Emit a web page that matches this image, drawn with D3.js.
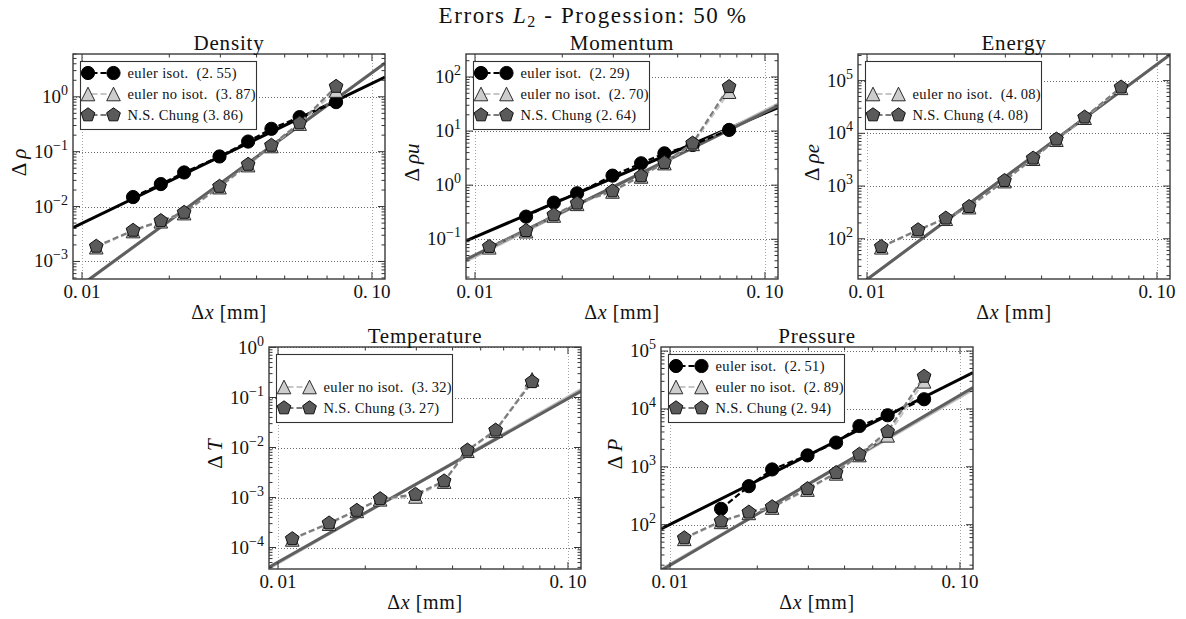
<!DOCTYPE html>
<html>
<head>
<meta charset="utf-8">
<script src="https://cdn.jsdelivr.net/npm/d3@7"></script>
<style>
  body { margin: 0; background: #fff; }
  svg { display: block; }
</style>
</head>
<body>
<svg id="fig" width="1186" height="619" font-family="Liberation Serif" fill="#111"></svg>
<script>
// Grid spacing Δx [mm] of the successive meshes
const dx = [0.0112, 0.0150, 0.0187, 0.0225, 0.0298, 0.0374, 0.0450, 0.0563, 0.0752];

// Density errors
const densityIsot   = [null, 0.0149, 0.0257, 0.0418, 0.0818, 0.153, 0.261, 0.427, 0.80];
const densityNoIsot = [0.00182, 0.00358, 0.0054, 0.0076, 0.0226, 0.057, 0.127, 0.325, 1.30];
const densityChung  = [0.00188, 0.00367, 0.0055, 0.0078, 0.0232, 0.0585, 0.130, 0.332, 1.54];
const densityOrders = [2.55, 3.87, 3.86];
const densityFitAt003 = [0.0817, 0.0262, 0.0264];

// Momentum errors
const momentumIsot   = [null, 0.262, 0.475, 0.708, 1.50, 2.54, 3.88, 5.53, 10.5];
const momentumNoIsot = [0.071, 0.141, 0.275, 0.452, 0.765, 1.45, 2.56, 5.80, 53.5];
const momentumChung  = [0.073, 0.144, 0.281, 0.462, 0.78, 1.48, 2.61, 5.94, 66];
const momentumOrders = [2.29, 2.70, 2.64];
const momentumFitAt003 = [1.365, 0.927, 0.929];

// Energy errors (no isothermal run)
const energyIsot   = [null, null, null, null, null, null, null, null, null];
const energyNoIsot = [69, 144, 240, 398, 1240, 3300, 7580, 19800, 73000];
const energyChung  = [70.8, 147, 245, 406, 1265, 3366, 7725, 20200, 75000];
const energyOrders = [null, 4.08, 4.08];
const energyFitAt003 = [null, 1496, 1496];

// Temperature errors (no isothermal run)
const temperatureIsot   = [null, null, null, null, null, null, null, null, null];
const temperatureNoIsot = [1.45e-4, 3.0e-4, 5.4e-4, 9.2e-4, 1.05e-3, 2.08e-3, 8.6e-3, 0.0216, 0.23];
const temperatureChung  = [1.49e-4, 3.07e-4, 5.5e-4, 9.4e-4, 1.15e-3, 2.13e-3, 8.8e-3, 0.0221, 0.206];
const temperatureOrders = [null, 3.32, 3.27];
const temperatureFitAt003 = [null, 1.87e-3, 1.86e-3];

// Pressure errors
const pressureIsot   = [null, 188, 463, 901, 1577, 2620, 5070, 7780, 14700];
const pressureNoIsot = [57, 112, 160, 198, 405, 770, 1600, 3500, 30000];
const pressureChung  = [59, 115, 164, 203, 417, 790, 1640, 4060, 36500];
const pressureOrders = [2.51, 2.89, 2.94];
const pressureFitAt003 = [1592, 495, 503];

// Tick labels of the Δx axis
const xTickValues = [0.01, 0.1];
const xTickLabels = ["0.\u200901", "0.\u200910"];

const seriesNames = ["euler isot.", "euler no isot.", "N.S. Chung"];

// ---------------------------------------------------------------------------
const FONT = "Liberation Serif";
const seriesStyles = [
  { shape: "circle",   fill: "#000000", stroke: "#000000", line: "#000000", fit: "#000000", sep: "  " },
  { shape: "triangle", fill: "#cdcdcd", stroke: "#2a2a2a", line: "#c6c6c6", fit: "#bdbdbd", sep: "  " },
  { shape: "pentagon", fill: "#5a5a5a", stroke: "#111111", line: "#7c7c7c", fit: "#5f5f5f", sep: " " }
];

const PW = 312;
const xDomain = [0.00931, 0.1109];
const FIT_REF = 0.03;

const panels = [
  { title: "Density", ylab: [["Δ ", false], ["ρ", true]], x: 73, y: 54, h: 225, ylim: [-3.32, 0.78],
    data: [densityIsot, densityNoIsot, densityChung], orders: densityOrders, fitAt: densityFitAt003 },
  { title: "Momentum", ylab: [["Δ ", false], ["ρu", true]], x: 466, y: 54, h: 225, ylim: [-1.735, 2.425],
    data: [momentumIsot, momentumNoIsot, momentumChung], orders: momentumOrders, fitAt: momentumFitAt003 },
  { title: "Energy", ylab: [["Δ ", false], ["ρe", true]], x: 858, y: 54, h: 225, ylim: [1.237, 5.505],
    data: [energyIsot, energyNoIsot, energyChung], orders: energyOrders, fitAt: energyFitAt003 },
  { title: "Temperature", ylab: [["Δ ", false], ["T", true]], x: 269, y: 347, h: 222, ylim: [-4.43, 0.01],
    data: [temperatureIsot, temperatureNoIsot, temperatureChung], orders: temperatureOrders, fitAt: temperatureFitAt003 },
  { title: "Pressure", ylab: [["Δ ", false], ["P", true]], x: 661, y: 347, h: 222, ylim: [1.235, 5.07],
    data: [pressureIsot, pressureNoIsot, pressureChung], orders: pressureOrders, fitAt: pressureFitAt003 }
];

const svg = d3.select("#fig");
const fmtOrder = o => o.toFixed(2).replace(".", ".\u2009");

function txt(sel, size) {
  return sel.append("text").attr("font-family", FONT).attr("font-size", size).attr("fill", "#111");
}

// Figure title
const ft = txt(svg, 23).attr("x", 593).attr("y", 23).attr("text-anchor", "middle")
  .attr("letter-spacing", 1.6);
ft.append("tspan").text("Errors ");
ft.append("tspan").attr("font-style", "italic").text("L");
ft.append("tspan").attr("dy", 4).attr("font-size", 16).text("2");
ft.append("tspan").attr("dy", -4).text(" - Progession: 50 %");

function marker(sel, shape, cx, cy, st) {
  const s = 6.8;
  if (shape === "circle") {
    sel.append("circle").attr("cx", cx).attr("cy", cy).attr("r", 6.6)
      .attr("fill", st.fill).attr("stroke", st.stroke).attr("stroke-width", 1);
  } else if (shape === "triangle") {
    sel.append("path")
      .attr("d", `M${cx},${cy - s}L${cx - s},${cy + s}L${cx + s},${cy + s}Z`)
      .attr("fill", st.fill).attr("stroke", st.stroke).attr("stroke-width", 1);
  } else {
    const r = 7.2;
    const pts = d3.range(5).map(k => {
      const a = -Math.PI / 2 + k * 2 * Math.PI / 5;
      return [cx + r * Math.cos(a), cy + r * Math.sin(a)];
    });
    sel.append("path").attr("d", "M" + pts.join("L") + "Z")
      .attr("fill", st.fill).attr("stroke", st.stroke).attr("stroke-width", 1);
  }
}

panels.forEach((p, pi) => {
  const g = svg.append("g").attr("transform", `translate(${p.x},${p.y})`);
  const h = p.h;
  const x = d3.scaleLog().domain(xDomain).range([0, PW]);
  const y = d3.scaleLog().domain([10 ** p.ylim[0], 10 ** p.ylim[1]]).range([h, 0]);

  const clipId = "clip" + pi;
  g.append("clipPath").attr("id", clipId).append("rect").attr("width", PW).attr("height", h);

  // decade values along y
  const yMajor = d3.range(Math.ceil(p.ylim[0] - 1e-9), Math.floor(p.ylim[1] + 1e-9) + 1);
  const yMinor = [];
  for (let k = Math.floor(p.ylim[0]); k <= Math.ceil(p.ylim[1]); k++)
    for (let m = 2; m <= 9; m++) {
      const v = m * 10 ** k;
      if (v > 10 ** p.ylim[0] && v < 10 ** p.ylim[1]) yMinor.push(v);
    }
  const xMinor = d3.range(2, 10).map(m => m / 100);

  // grid
  const grid = g.append("g").attr("stroke", "#5a5a5a").attr("stroke-width", 0.9).attr("stroke-dasharray", "1,2");
  yMajor.forEach(k => {
    const yy = Math.round(y(10 ** k)) + 0.5;
    grid.append("line").attr("x1", 0).attr("x2", PW).attr("y1", yy).attr("y2", yy);
  });
  xTickValues.forEach(v => {
    const xx = Math.round(x(v)) + 0.5;
    grid.append("line").attr("x1", xx).attr("x2", xx).attr("y1", 0).attr("y2", h).attr("stroke", "#999");
  });

  // fitted convergence lines
  const plot = g.append("g").attr("clip-path", `url(#${clipId})`);
  const fitLine = d3.line().x(d => x(d[0])).y(d => y(d[1]));
  p.orders.forEach((o, si) => {
    if (o == null) return;
    const f = v => p.fitAt[si] * Math.pow(v / FIT_REF, o);
    plot.append("path").datum(xDomain.map(v => [v, f(v)]))
      .attr("d", fitLine).attr("fill", "none")
      .attr("stroke", seriesStyles[si].fit).attr("stroke-width", 3);
  });

  // measured errors: dashed lines then markers
  p.data.forEach((vals, si) => {
    const st = seriesStyles[si];
    const pts = vals.map((v, i) => ({ dx: dx[i], v })).filter(d => d.v != null);
    if (!pts.length) return;
    const ln = d3.line().x(d => x(d.dx)).y(d => y(d.v));
    plot.append("path").datum(pts).attr("d", ln).attr("fill", "none")
      .attr("stroke", st.line).attr("stroke-width", 2.2).attr("stroke-dasharray", "6,3");
    const mg = plot.append("g");
    pts.forEach(d => marker(mg, st.shape, x(d.dx), y(d.v), st));
  });

  // ticks on all four sides, pointing inwards
  const tk = g.append("g").attr("stroke", "#333").attr("stroke-width", 1);
  const tick = (x1, y1, x2, y2) => tk.append("line").attr("x1", x1).attr("y1", y1).attr("x2", x2).attr("y2", y2);
  xTickValues.forEach(v => { const xx = x(v); tick(xx, h, xx, h - 7); tick(xx, 0, xx, 7); });
  xMinor.forEach(v => { const xx = x(v); tick(xx, h, xx, h - 3.5); tick(xx, 0, xx, 3.5); });
  yMajor.forEach(k => { const yy = y(10 ** k); tick(0, yy, 7, yy); tick(PW, yy, PW - 7, yy); });
  yMinor.forEach(v => { const yy = y(v); tick(0, yy, 3.5, yy); tick(PW, yy, PW - 3.5, yy); });

  // frame
  g.append("rect").attr("x", 0).attr("y", 0).attr("width", PW).attr("height", h)
    .attr("fill", "none").attr("stroke", "#3a3a3a").attr("stroke-width", 1.4);

  // x tick labels
  xTickValues.forEach((v, i) => {
    txt(g, 19).attr("x", x(v)).attr("y", h + 19).attr("text-anchor", "middle")
      .style("white-space", "pre").text(xTickLabels[i]);
  });

  // y tick labels
  const yt = g.append("g");
  yMajor.forEach(k => {
    const t = txt(yt, 19).attr("x", -5).attr("y", y(10 ** k) + 6).attr("text-anchor", "end");
    t.append("tspan").text("10");
    t.append("tspan").attr("dy", -8).attr("font-size", 14)
      .text(k < 0 ? "\u2212" + (-k) : String(k));
  });

  // axis labels
  const xl = txt(g, 20).attr("x", PW / 2).attr("y", h + 40).attr("text-anchor", "middle")
    .attr("letter-spacing", 0.6);
  xl.append("tspan").text("Δ");
  xl.append("tspan").attr("font-style", "italic").text("x");
  xl.append("tspan").text(" [mm]");

  const bb = yt.node().getBBox();
  const yl = txt(g, 21)
    .attr("transform", `translate(${bb.x - 8},${h / 2 - 4}) rotate(-90)`)
    .attr("text-anchor", "middle").style("white-space", "pre");
  p.ylab.forEach(([s, it]) => yl.append("tspan").attr("font-style", it ? "italic" : "normal").text(s));

  // panel title
  txt(g, 21).attr("x", PW / 2).attr("y", -4).attr("text-anchor", "middle")
    .attr("letter-spacing", 0.8).text(p.title);

  // legend
  const lg = g.append("g").attr("transform", "translate(7.5,7.5)");
  lg.append("rect").attr("width", 176).attr("height", 68).attr("fill", "#fff")
    .attr("stroke", "#333").attr("stroke-width", 1.1);
  const rowY = [11.5, 32.5, 53.5];
  p.orders.forEach((o, si) => {
    if (o == null) return;
    const st = seriesStyles[si];
    const ry = rowY[si];
    lg.append("line").attr("x1", 7).attr("x2", 33).attr("y1", ry).attr("y2", ry)
      .attr("stroke", st.line).attr("stroke-width", 2.2).attr("stroke-dasharray", "6,3")
      .attr("stroke-dashoffset", -4);
    marker(lg, st.shape, 7.5, ry, st);
    marker(lg, st.shape, 33, ry, st);
    txt(lg, 14.5).attr("x", 47).attr("y", ry + 4.5)
      .style("white-space", "pre").attr("letter-spacing", 0.35)
      .text(`${seriesNames[si]}${st.sep}(${fmtOrder(o)})`);
  });
});
</script>
</body>
</html>
